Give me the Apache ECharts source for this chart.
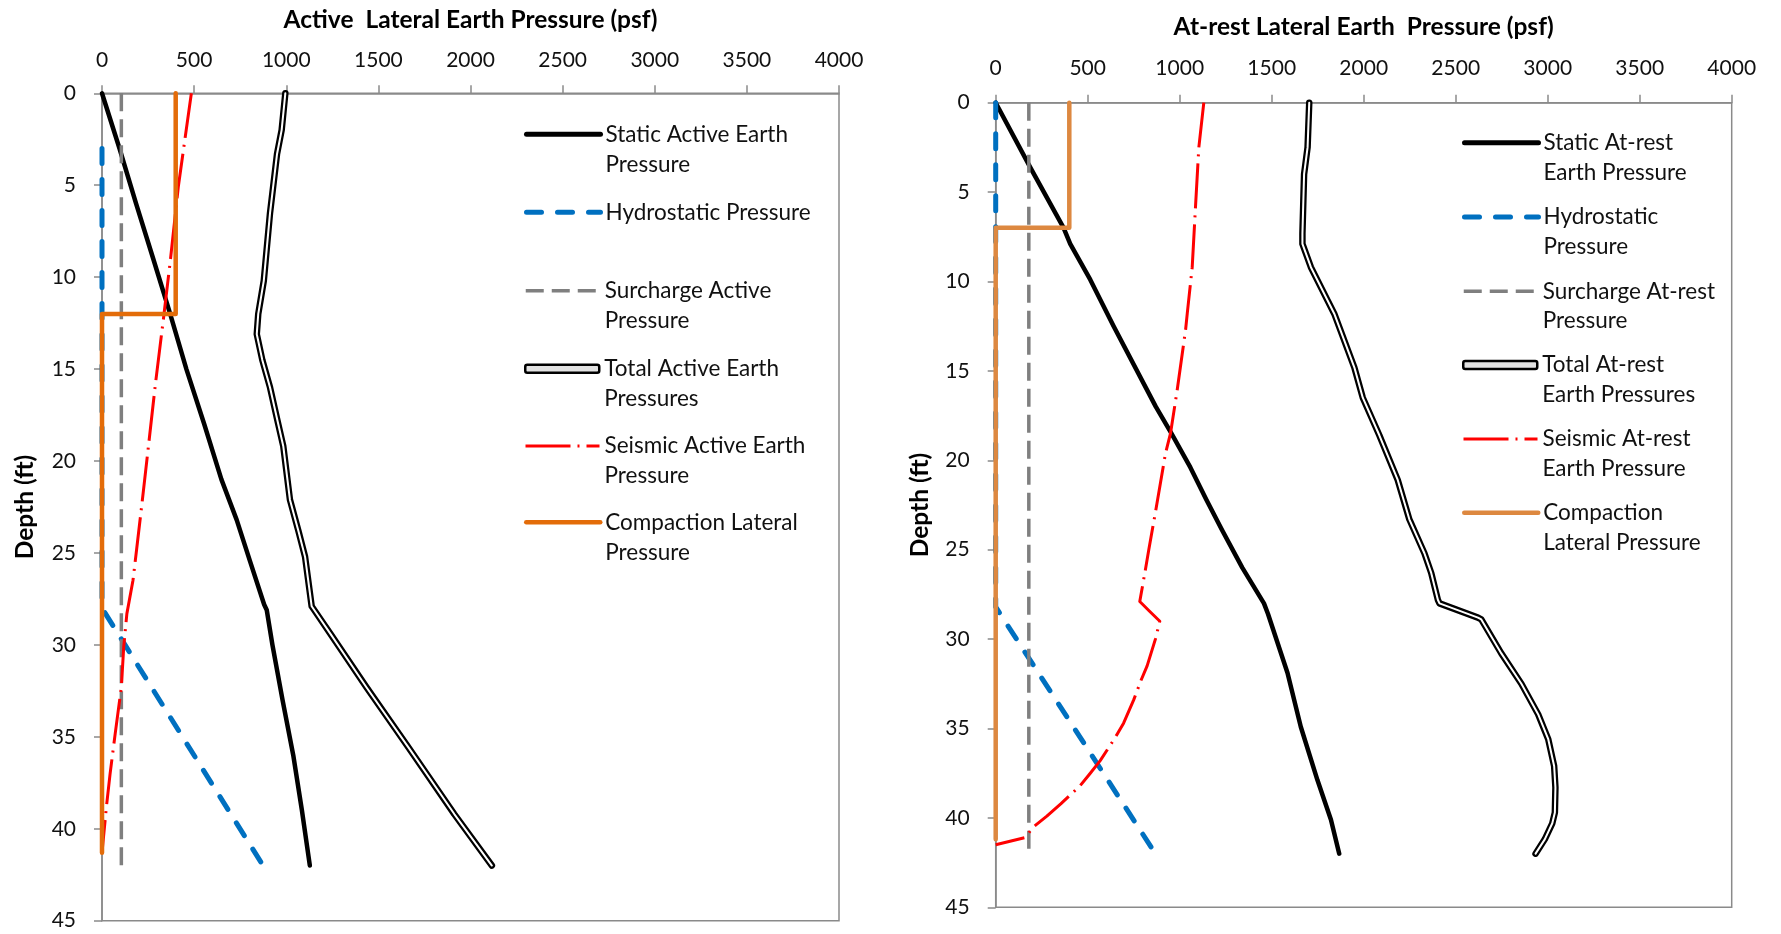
<!DOCTYPE html>
<html>
<head>
<meta charset="utf-8">
<script src="https://cdn.jsdelivr.net/npm/echarts@6/dist/echarts.min.js"></script>
<style>
  html, body { margin: 0; padding: 0; background: #ffffff; }
  #chart { width: 1781px; height: 934px; }
</style>
</head>
<body>
<div id="chart"></div>
<script>
// Axis ticks shared by both profiles
const pressureTicks = [0, 500, 1000, 1500, 2000, 2500, 3000, 3500, 4000]; // psf
const depthTicks = [0, 5, 10, 15, 20, 25, 30, 35, 40, 45];                 // ft

// ---- Active case: points are [pressure psf, depth ft] ----
const activeStatic = [[0,0],[95,3],[185,6],[278,9],[370,12],[458,15],[555,18],[648,21],[731,23.2],
  [805,25.5],[880,27.8],[894,28.1],[925,30],[980,33],[1038,36],[1085,39],[1128,42]];
const activeHydro = [[0,3],[0,28],[874,42]];
const activeSurcharge = [[105,0],[105,42]];
const activeTotal = [[995,0],[975,2],[950,3.3],[912,6.5],[878,10.2],[848,12],[840,13.1],[870,14.5],
  [912,16],[950,17.7],[984,19.2],[1020,22.1],[1066,23.8],[1102,25.2],[1138,27.9],[1240,29.4],
  [1435,32.3],[1665,35.6],[1912,39.2],[2116,42]];
const activeSeismic = [[485,0],[450,2.5],[414,5.1],[372,9],[333,12.3],[290,15.8],[252,19.2],[217,22.3],
  [188,24.8],[168,26.5],[135,28.3],[118,30.1],[105,32.3],[72,34.8],[44,37],[24,38.8],[0,41.3]];
const activeCompaction = [[400,0],[400,12],[0,12],[0,41.3]];

// ---- At-rest case: points are [pressure psf, depth ft] ----
const restStatic = [[0,0],[187,3.6],[369,7],[405,7.9],[514,9.9],[641,12.5],[870,17],[955,18.5],
  [1058,20.4],[1145,22.2],[1230,23.9],[1340,26],[1458,28],[1480,28.6],[1586,31.9],[1658,34.9],
  [1749,37.9],[1822,40.1],[1867,42]];
const restHydro = [[0,0],[0,28.2],[868,42]];
const restSurcharge = [[180,0],[180,42]];
const restTotal = [[1704,0],[1695,2.5],[1676,4],[1667,7.3],[1667,7.9],[1713,9.2],[1840,11.8],
  [1949,14.8],[1995,16.5],[2085,18.6],[2185,21.1],[2248,23.3],[2330,25.2],[2367,26.3],[2403,27.8],
  [2412,28],[2621,28.8],[2639,28.9],[2748,30.8],[2857,32.5],[2948,34.2],[3003,35.6],[3035,37.1],
  [3042,38.3],[3039,39.7],[3025,40.3],[2984,41.2],[2934,42]];
const restSeismic = [[1131,0],[1104,2.5],[1086,5.8],[1068,9.2],[1041,11.8],[1032,12.7],[986,16.1],
  [950,18.5],[923,19.6],[870,22.8],[832,25],[814,26.1],[783,27.9],[832,28.4],[892,29],[868,30],
  [823,31.5],[790,32.3],[750,33.4],[695,34.7],[650,35.5],[568,36.8],[514,37.5],[459,38.2],
  [355,39.2],[278,39.9],[205,40.5],[160,41.1],[0,41.5]];
const restCompaction = [[400,0],[400,7],[0,7],[0,41.2]];

const FONT = 'Lato';
const AXIS_GREY = '#8a8a8a';

const STYLE = {
  static:     { color: '#000000', width: 4.5, type: 'solid' },
  hydro:      { color: '#0070C0', width: 5, type: [15, 16] },
  surcharge:  { color: '#7f7f7f', width: 3.5, type: [18, 8] },
  totalOuter: { color: '#000000', width: 6.5, type: 'solid' },
  totalInner: { color: '#ffffff', width: 2, type: 'solid' },
  seismic:    { color: '#ff0000', width: 3, type: [45, 7, 2, 7] }
};

function line(name, data, idx, style) {
  return {
    type: 'line', name: name, data: data,
    xAxisIndex: idx, yAxisIndex: idx,
    symbol: 'none', showSymbol: false, clip: false, animation: false,
    emphasis: { disabled: true },
    lineStyle: Object.assign({ cap: style.type === 'solid' ? 'round' : 'butt', join: 'round' }, style)
  };
}

function panel(idx, names, d, compactionColor) {
  return [
    line(names[0], d.stat, idx, STYLE.static),
    line(names[1], d.hydro, idx, Object.assign({}, STYLE.hydro, { cap: 'round' })),
    line(names[2], d.sur, idx, STYLE.surcharge),
    line(names[3], d.total, idx, STYLE.totalOuter),
    line(names[3] + ' core', d.total, idx, STYLE.totalInner),
    line(names[4], d.seis, idx, STYLE.seismic),
    line(names[5], d.comp, idx, { color: compactionColor, width: 4.5, type: 'solid' })
  ];
}

const activeNames = ['Static Active Earth Pressure', 'Hydrostatic Pressure', 'Surcharge Active Pressure',
  'Total Active Earth Pressures', 'Seismic Active Earth Pressure', 'Compaction Lateral Pressure'];
const activeLabels = ['Static Active Earth\nPressure', 'Hydrostatic Pressure', 'Surcharge Active\nPressure',
  'Total Active Earth\nPressures', 'Seismic Active Earth\nPressure', 'Compaction Lateral\nPressure'];
const restNames = ['Static At-rest Earth Pressure', 'At-rest Hydrostatic Pressure', 'Surcharge At-rest Pressure',
  'Total At-rest Earth Pressures', 'Seismic At-rest Earth Pressure', 'At-rest Compaction Lateral Pressure'];
const restLabels = ['Static At-rest\nEarth Pressure', 'Hydrostatic\nPressure', 'Surcharge At-rest\nPressure',
  'Total At-rest\nEarth Pressures', 'Seismic At-rest\nEarth Pressure', 'Compaction\nLateral Pressure'];
const legendWidths = [5, 5, 3.5, 0, 3, 4.5];

// One legend block per entry so each can sit at its own depth beside the plot.
// Two-line labels get a blank leading line so the first line lines up with the key.
function legends(names, labels, left, centers, lineH) {
  return names.map(function (name, i) {
    const twoLine = labels[i].indexOf('\n') >= 0;
    const text = twoLine ? ' \n' + labels[i] : labels[i];
    const isTotal = i === 3;
    return {
      left: left, top: centers[i] - (twoLine ? 1.5 : 0.5) * lineH,
      orient: 'vertical', padding: 0, itemGap: 0, selectedMode: false,
      itemWidth: 74, itemHeight: isTotal ? 8 : 14,
      formatter: function () { return text; },
      textStyle: { fontFamily: FONT, fontSize: 22.5, color: '#111', lineHeight: lineH },
      lineStyle: { width: legendWidths[i] || 2 },
      itemStyle: { opacity: 0 },
      data: [isTotal
        ? { name: name, icon: 'roundRect', itemStyle: { color: '#e2e2e2', borderColor: '#000', borderWidth: 2.5, opacity: 1 } }
        : name]
    };
  });
}

const TITLE_STYLE = { fontFamily: FONT, fontWeight: 'bold', fontSize: 24.5, color: '#000' };
const TICK_STYLE = { fontFamily: FONT, fontSize: 21, color: '#111' };

function xAxis(idx, title, gap, margin) {
  return {
    gridIndex: idx, type: 'value', position: 'top',
    min: pressureTicks[0], max: pressureTicks[pressureTicks.length - 1],
    interval: pressureTicks[1] - pressureTicks[0],
    name: title, nameLocation: 'middle', nameGap: gap, nameTextStyle: TITLE_STYLE,
    axisLine: { show: true, lineStyle: { color: AXIS_GREY, width: 1.5 } },
    axisTick: { show: true, inside: false, length: 8, lineStyle: { color: AXIS_GREY, width: 1.5 } },
    axisLabel: Object.assign({ margin: margin, formatter: function (v) { return String(v); } }, TICK_STYLE),
    splitLine: { show: false }
  };
}

function yAxis(idx, gap) {
  return {
    gridIndex: idx, type: 'value', inverse: true,
    min: depthTicks[0], max: depthTicks[depthTicks.length - 1],
    interval: depthTicks[1] - depthTicks[0],
    name: 'Depth (ft)', nameLocation: 'middle', nameGap: gap, nameTextStyle: TITLE_STYLE,
    axisLine: { show: true, lineStyle: { color: AXIS_GREY, width: 1.5 } },
    axisTick: { show: true, inside: false, length: 8, lineStyle: { color: AXIS_GREY, width: 1.5 } },
    axisLabel: Object.assign({ margin: 26, formatter: function (v) { return String(v); } }, TICK_STYLE),
    splitLine: { show: false }
  };
}

const chart = echarts.init(document.getElementById('chart'), null, { renderer: 'canvas' });
chart.setOption({
  backgroundColor: '#ffffff',
  animation: false,
  grid: [
    { left: 102, top: 93.3, width: 737, height: 827.4, show: true, borderColor: AXIS_GREY, borderWidth: 1.5 },
    { left: 995.7, top: 102.7, width: 736, height: 804.6, show: true, borderColor: AXIS_GREY, borderWidth: 1.5 }
  ],
  xAxis: [
    xAxis(0, 'Active  Lateral Earth Pressure (psf)', 60.5, 22.6),
    xAxis(1, 'At-rest Lateral Earth  Pressure (psf)', 63, 24.2)
  ],
  yAxis: [yAxis(0, 64.75), yAxis(1, 63.5)],
  legend: legends(activeNames, activeLabels, 524, [134.3, 212.3, 290.7, 368.7, 446, 522.3], 30)
    .concat(legends(restNames, restLabels, 1462, [142.7, 217, 291.3, 365, 439, 512.7], 29.7)),
  series: panel(0, activeNames,
      { stat: activeStatic, hydro: activeHydro, sur: activeSurcharge, total: activeTotal, seis: activeSeismic, comp: activeCompaction },
      '#E36C09')
    .concat(panel(1, restNames,
      { stat: restStatic, hydro: restHydro, sur: restSurcharge, total: restTotal, seis: restSeismic, comp: restCompaction },
      '#DD8840'))
});
</script>
</body>
</html>
